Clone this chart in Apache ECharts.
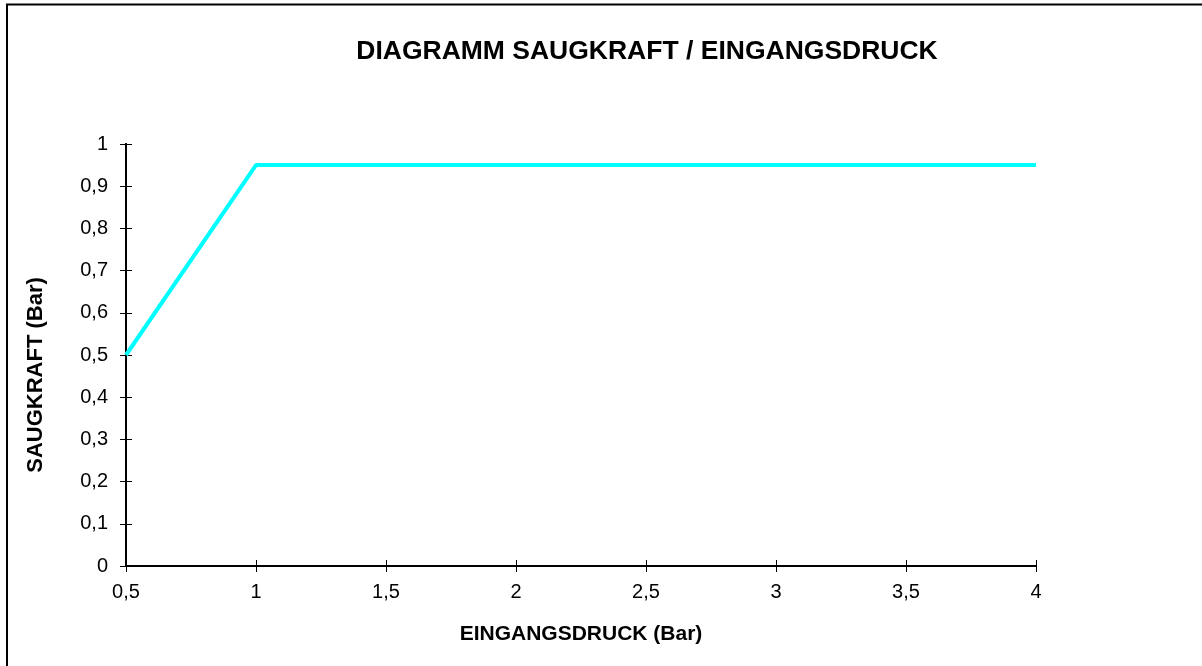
<!DOCTYPE html>
<html><head><meta charset="utf-8">
<style>html,body{margin:0;padding:0;background:#fff}#c{width:1202px;height:666px}</style>
<script src="https://cdn.jsdelivr.net/npm/echarts@6/dist/echarts.min.js"></script>
</head><body><div id="c"></div>
<script>
const titleText = 'DIAGRAMM SAUGKRAFT / EINGANGSDRUCK';
const xName = 'EINGANGSDRUCK (Bar)';
const yName = 'SAUGKRAFT (Bar)';
const xValues = [0.5, 1, 4];
const yValues = [0.5, 0.95, 0.95];
const fmt = v => String(+v.toFixed(2)).replace('.', ',');
const font = 'Liberation Sans, Arial, sans-serif';
const chart = echarts.init(document.getElementById('c'), null, {renderer: 'canvas'});
const axisBase = {
  type: 'value', splitLine: {show: false},
  axisLine: {show: true, lineStyle: {color: '#000', width: 2}}
};
chart.setOption({
  animation: false,
  backgroundColor: '#fff',
  title: {text: titleText, left: 647, textAlign: 'center', top: 33,
    textStyle: {fontFamily: font, fontWeight: 'bold', fontSize: 26.5, color: '#000'}},
  graphic: [
    {type: 'rect', shape: {x: 7, y: 4.5, width: 1300, height: 800},
      style: {fill: 'none', stroke: '#000', lineWidth: 2}, silent: true},
    {type: 'text', x: 36, y: 375, rotation: Math.PI / 2, silent: true,
      style: {text: yName, fontFamily: font, fontWeight: 'bold', fontSize: 22, fill: '#000',
        align: 'center', verticalAlign: 'middle'}}
  ],
  grid: {left: 126, right: 1202 - 1036, top: 144, bottom: 666 - 566},
  xAxis: [
    Object.assign({}, axisBase, {min: 0.5, max: 4, interval: 0.5,
      name: xName, nameLocation: 'middle', nameGap: 58,
      nameTextStyle: {fontFamily: font, fontWeight: 'bold', fontSize: 21, color: '#000', verticalAlign: 'top'},
      axisTick: {show: true, length: 6, lineStyle: {color: '#000', width: 1}},
      axisLabel: {fontFamily: font, fontSize: 20, color: '#000', margin: 16, formatter: fmt}}),
    Object.assign({}, axisBase, {min: 0.5, max: 4, interval: 0.5, position: 'bottom',
      axisTick: {show: true, inside: true, length: 6, lineStyle: {color: '#000', width: 1}},
      axisLabel: {show: false}})
  ],
  yAxis: [
    Object.assign({}, axisBase, {min: 0, max: 1, interval: 0.1,
      axisTick: {show: true, length: 6, lineStyle: {color: '#000', width: 1}},
      axisLabel: {fontFamily: font, fontSize: 20, color: '#000', margin: 18, formatter: fmt}}),
    Object.assign({}, axisBase, {min: 0, max: 1, interval: 0.1, position: 'left',
      axisTick: {show: true, inside: true, length: 6, lineStyle: {color: '#000', width: 1}},
      axisLabel: {show: false}})
  ],
  series: [{type: 'line', data: xValues.map((x, i) => [x, yValues[i]]),
    showSymbol: false, symbol: 'none', z: 5,
    lineStyle: {color: '#00FFFF', width: 4}}]
});
chart.setOption({title: {left: 642}});
</script></body></html>
